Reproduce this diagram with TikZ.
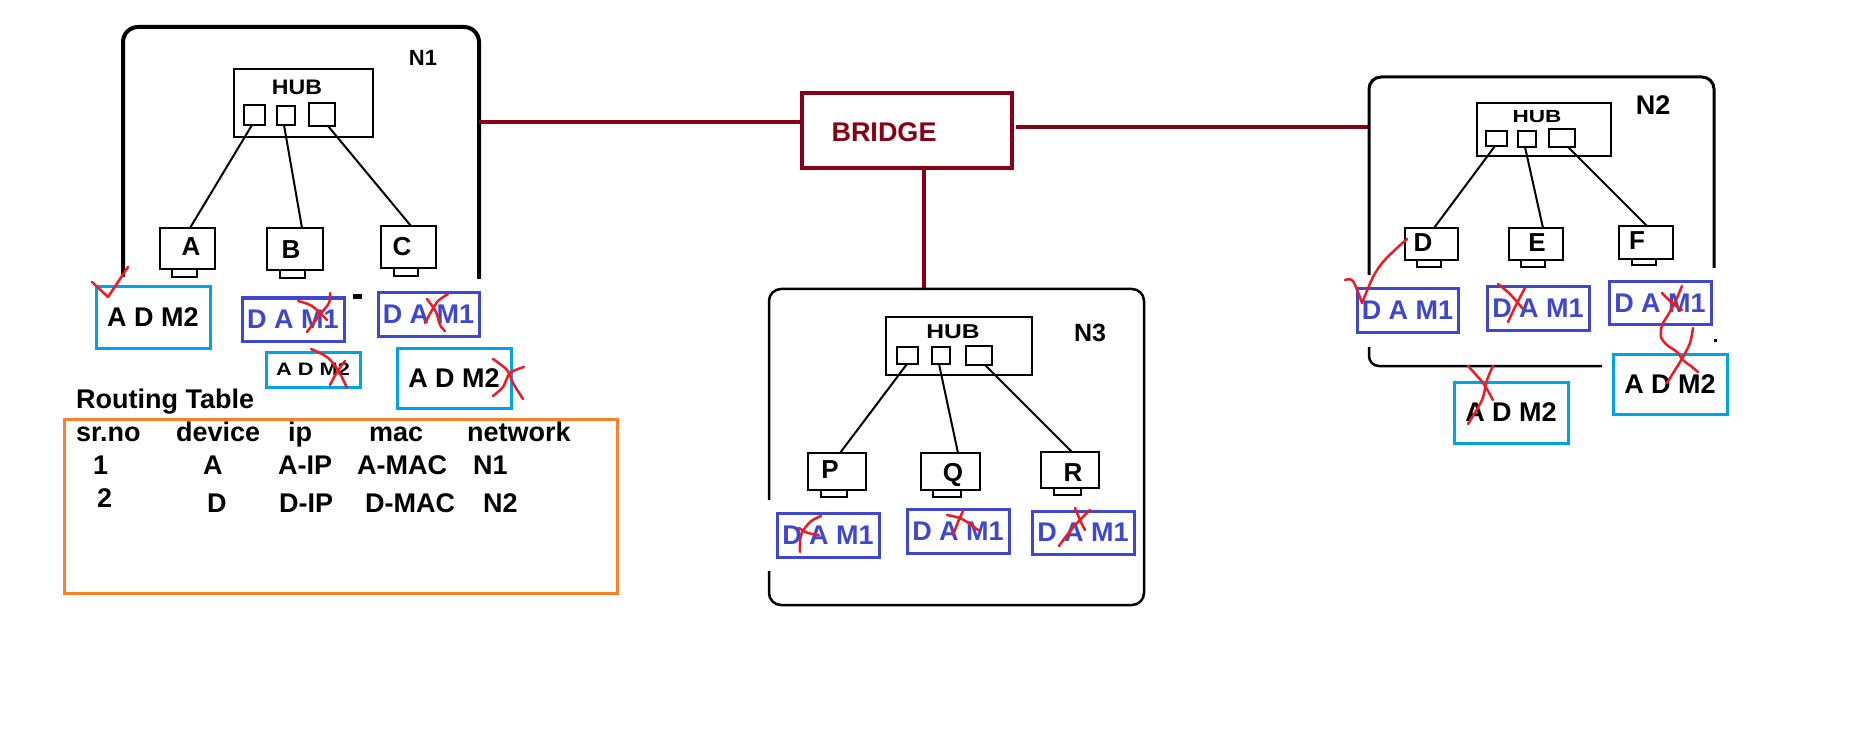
\documentclass[tikz,border=0pt]{standalone}
\usepackage{fontspec}
\setmainfont{Liberation Sans}
\definecolor{bridgered}{HTML}{880015}
\definecolor{markred}{HTML}{ED1C24}
\definecolor{tableorange}{HTML}{FF7F27}
\definecolor{admcyan}{HTML}{00A2E8}
\definecolor{damblue}{HTML}{3F48CC}
\newcommand\bsz[1]{\fontsize{#1}{#1}\selectfont\bfseries}
\tikzset{
  sz/.style 2 args={minimum width=#1pt, minimum height=#2pt},
  netframe/.style={draw, line width=3pt},
  hubbox/.style={draw, line width=2.5pt, inner sep=0pt, outer sep=0pt},
  portbox/.style={draw, line width=2pt, inner sep=0pt, outer sep=0pt},
  devbox/.style={draw, line width=2.5pt, inner sep=0pt, outer sep=0pt},
  devbase/.style={draw, line width=2pt, inner sep=0pt, outer sep=0pt},
  devlabel/.style={inner sep=0pt, font=\bsz{26}},
  hublabel/.style={inner sep=0pt},
  netlabel/.style={inner sep=0pt},
  wire/.style={line width=2pt},
  link/.style={draw=bridgered, line width=4pt},
  bridgebox/.style={draw=bridgered, line width=4pt, inner sep=0pt, outer sep=0pt},
  dambox/.style={draw=damblue, line width=3pt, text=damblue, inner sep=0pt, font=\bsz{27}},
  admbox/.style={draw=admcyan, line width=3pt, inner sep=0pt, font=\bsz{27}},
  strike/.style={draw=markred, line width=2.5pt, line cap=round, line join=round},
  cell/.style={anchor=base west, inner sep=0pt, font=\bsz{27}},
}
\begin{document}
\begin{tikzpicture}[x=1pt,y=-1pt]
\fill[white] (0,0) rectangle (1852,743);
\useasboundingbox (0,0) rectangle (1852,743);

% ---------- network N1 ----------
\draw[netframe, line width=4pt, rounded corners=15pt] (123,277) -- (123,27) -- (479,27) -- (479,279);
\fill (353,294) rectangle (362,299);
\node[netlabel, font=\bsz{22}] (n1lab) at (423,58) {N1};
\node[hubbox, sz={139}{68}] (hub1) at (303.5,103) {};
\node[hublabel, font=\bsz{21}] (hub1t) at (297,87) {\scalebox{1.1}[1]{HUB}};
\node[portbox, sz={21}{20}] (h1p1) at (254.5,115) {};
\node[portbox, sz={18}{19}] (h1p2) at (286,115.5) {};
\node[portbox, sz={26}{23}] (h1p3) at (322,114.5) {};
\node[devbox, sz={55}{41}] (A) at (187.5,248.5) {};
\node[devbase, sz={25}{8}] (Ab) at (184.5,273) {};
\node[devlabel] (At) at (191,247) {A};
\node[devbox, sz={56}{42}] (B) at (295,249) {};
\node[devbase, sz={25}{8}] (Bb) at (292.5,274) {};
\node[devlabel] (Bt) at (291,250) {B};
\node[devbox, sz={55}{42}] (C) at (408.5,247) {};
\node[devbase, sz={24}{8}] (Cb) at (406,272) {};
\node[devlabel] (Ct) at (402,247) {C};
\draw[wire] ([xshift=-2.5pt]h1p1.south) -- ([xshift=2.5pt]A.north);
\draw[wire] ([xshift=-2pt]h1p2.south) -- ([xshift=7pt]B.north);
\draw[wire] ([xshift=6pt]h1p3.south) -- ([xshift=2.5pt]C.north);

\node[admbox, sz={114}{61}] (m1a) at (153,317.5) {A D M2};
\node[dambox, sz={102}{43}] (m1b) at (293,319.5) {D A M1};
\node[dambox, sz={101}{43}] (m1c) at (428.5,314.5) {D A M1};
\node[admbox, sz={94}{35}, font=\bsz{18}] (m1d) at (313,369.5) {\scalebox{1.21}[1]{A D M2}};
\node[admbox, sz={114}{60}] (m1e) at (454,378) {A D M2};

% ---------- routing table ----------
\node[anchor=base west, inner sep=0pt, font=\bsz{27}] (rtitle) at (76,408) {Routing Table};
\node[draw=tableorange, line width=3pt, inner sep=0pt, outer sep=0pt, sz={553}{174}] (rtable) at (340.5,506) {};
\node[cell] (c11) at (76,441) {sr.no};
\node[cell] (c12) at (176,441) {device};
\node[cell] (c13) at (288,441) {ip};
\node[cell] (c14) at (369,441) {mac};
\node[cell] (c15) at (467,441) {network};
\node[cell] (c21) at (93,474) {1};
\node[cell] (c22) at (203,474) {A};
\node[cell] (c23) at (278,474) {A-IP};
\node[cell] (c24) at (357,474) {A-MAC};
\node[cell] (c25) at (473,474) {N1};
\node[cell] (c31) at (97,507) {2};
\node[cell] (c32) at (207,512) {D};
\node[cell] (c33) at (279,512) {D-IP};
\node[cell] (c34) at (365,512) {D-MAC};
\node[cell] (c35) at (483,512) {N2};

% ---------- bridge ----------
\node[bridgebox, sz={210}{75}] (bridge) at (907,130.5) {};
\node[inner sep=0pt, text=bridgered, font=\bsz{27}] (bridget) at (884,132) {BRIDGE};
\coordinate (n1port) at (479,122);
\coordinate (n2port) at (1369,127);
\coordinate (n3port) at (924,289);
\draw[link] (n1port) -- (bridge.west |- n1port);
\draw[link] ([xshift=4pt]bridge.east |- n2port) -- (n2port);
\draw[link] (bridge.south -| n3port) -- (n3port);

% ---------- network N3 ----------
\draw[netframe, line width=2.5pt, rounded corners=12pt] (769,500) -- (769,289) -- (1144,289) -- (1144,605) -- (769,605) -- (769,571);
\node[netlabel, font=\bsz{25}] (n3lab) at (1090,333) {N3};
\node[hubbox, sz={146}{58}] (hub3) at (959,346) {};
\node[hublabel, font=\bsz{20}] (hub3t) at (953,332) {\scalebox{1.23}[1]{HUB}};
\node[portbox, sz={21}{17}] (h3p1) at (907.5,355.5) {};
\node[portbox, sz={18}{17}] (h3p2) at (941,355.5) {};
\node[portbox, sz={26}{19}] (h3p3) at (979,355.5) {};
\node[devbox, sz={58}{37}] (P) at (837,471.5) {};
\node[devbase, sz={26}{7}] (Pb) at (834,493.5) {};
\node[devlabel] (Pt) at (830,470) {P};
\node[devbox, sz={59}{37}] (Q) at (950.5,471.5) {};
\node[devbase, sz={28}{7}] (Qb) at (947,493.5) {};
\node[devlabel] (Qt) at (953,475) {Q};
\node[devbox, sz={58}{36}] (R) at (1070,470) {};
\node[devbase, sz={27}{7}] (Rb) at (1067.5,491.5) {};
\node[devlabel] (Rt) at (1073,473) {R};
\draw[wire] ([xshift=-0.5pt]h3p1.south) -- ([xshift=3pt]P.north);
\draw[wire] ([xshift=-2pt]h3p2.south) -- ([xshift=7.5pt]Q.north);
\draw[wire] ([xshift=6pt]h3p3.south) -- ([xshift=2pt]R.north);
\node[dambox, sz={102}{44}] (m3a) at (828,535) {D A M1};
\node[dambox, sz={102}{44}] (m3b) at (958,531) {D A M1};
\node[dambox, sz={102}{43}] (m3c) at (1083,532.5) {D A M1};

% ---------- network N2 ----------
\draw[netframe, line width=3pt, rounded corners=12pt] (1369,275) -- (1369,77) -- (1714,77) -- (1714,268);
\draw[netframe, line width=2.5pt, rounded corners=10pt] (1369,347) -- (1369,366) -- (1602,366);
\fill (1713.5,338.5) rectangle (1716.5,341.5);
\node[netlabel, font=\bsz{27}] (n2lab) at (1653,105) {N2};
\node[hubbox, sz={134}{53}] (hub2) at (1544,129.5) {};
\node[hublabel, font=\bsz{17.5}] (hub2t) at (1537,117) {\scalebox{1.29}[1]{HUB}};
\node[portbox, sz={21}{15}] (h2p1) at (1496.5,138.5) {};
\node[portbox, sz={18}{16}] (h2p2) at (1527,139) {};
\node[portbox, sz={26}{18}] (h2p3) at (1562,138) {};
\node[devbox, sz={53}{32}] (D) at (1431.5,244) {};
\node[devbase, sz={24}{7}] (Db) at (1429,263.5) {};
\node[devlabel] (Dt) at (1423,243) {D};
\node[devbox, sz={54}{32}] (E) at (1536,244) {};
\node[devbase, sz={24}{7}] (Eb) at (1533,263.5) {};
\node[devlabel] (Et) at (1537,243) {E};
\node[devbox, sz={54}{33}] (F) at (1646,242.5) {};
\node[devbase, sz={24}{6}] (Fb) at (1644,262) {};
\node[devlabel] (Ft) at (1637,241) {F};
\draw[wire] ([xshift=-1.5pt]h2p1.south) -- ([xshift=2.5pt]D.north);
\draw[wire] ([xshift=-2pt]h2p2.south) -- ([xshift=7pt]E.north);
\draw[wire] ([xshift=6pt]h2p3.south) -- ([xshift=1pt]F.north);
\node[dambox, sz={101}{43}] (m2a) at (1407.5,310.5) {D A M1};
\node[dambox, sz={102}{43}] (m2b) at (1538,308.5) {D A M1};
\node[dambox, sz={102}{42}] (m2c) at (1660,303) {D A M1};
\node[admbox, sz={114}{61}] (m2d) at (1511,412.5) {A D M2};
\node[admbox, sz={114}{60}] (m2e) at (1670,384) {A D M2};

% ---------- hand-drawn ticks and crosses ----------
\draw[strike] (92,282) -- (108,297) -- (128,267);
\draw[strike] plot[smooth] coordinates {(1345,280) (1353,281) (1362,303)};
\draw[strike] plot[smooth] coordinates {(1362,303) (1373,277) (1383,262) (1397,248) (1407,239)};
% N1 boxes
\draw[strike] plot[smooth] coordinates {(298,301) (312,306) (327,320)};
\draw[strike] plot[smooth] coordinates {(330,293) (329,303) (318,317) (307,332)};
\draw[strike] plot[smooth] coordinates {(427,299) (436,312) (440,325) (445,331)};
\draw[strike] plot[smooth] coordinates {(448,294) (438,301) (431,312) (425,323)};
\draw[strike] plot[smooth] coordinates {(311,349) (327,357) (338,370) (347,388)};
\draw[strike] plot[smooth] coordinates {(345,361) (337,372) (330,385)};
\draw[strike] plot[smooth] coordinates {(493,359) (507,370) (513,383) (523,399)};
\draw[strike] plot[smooth] coordinates {(524,367) (510,373) (503,387) (493,396)};
% N3 boxes
\draw[strike] plot[smooth] coordinates {(800,552) (801,535) (810,522) (821,516)};
\draw[strike] plot[smooth] coordinates {(799,528) (808,533) (819,535)};
\draw[strike] plot[smooth] coordinates {(947,515) (962,519) (978,530)};
\draw[strike] plot[smooth] coordinates {(963,511) (958,522) (953,535)};
\draw[strike] plot[smooth] coordinates {(1075,508) (1080,520) (1085,530)};
\draw[strike] plot[smooth] coordinates {(1090,510) (1078,522) (1067,535) (1059,546)};
% N2 boxes
\draw[strike] plot[smooth] coordinates {(1498,284) (1510,294) (1523,309)};
\draw[strike] plot[smooth] coordinates {(1525,288) (1516,305) (1508,322)};
\draw[strike] plot[smooth] coordinates {(1662,293) (1672,303) (1682,310)};
\draw[strike] plot[smooth] coordinates {(1682,286) (1676,300) (1668,315) (1662,325) (1661,337) (1667,345) (1677,352) (1683,360) (1692,367) (1698,372)};
\draw[strike] plot[smooth] coordinates {(1693,328) (1690,343) (1683,357) (1675,370) (1667,383)};
\draw[strike] plot[smooth] coordinates {(1468,366) (1483,383) (1493,400)};
\draw[strike] plot[smooth] coordinates {(1493,366) (1487,380) (1482,400) (1468,424)};
\end{tikzpicture}
\end{document}
